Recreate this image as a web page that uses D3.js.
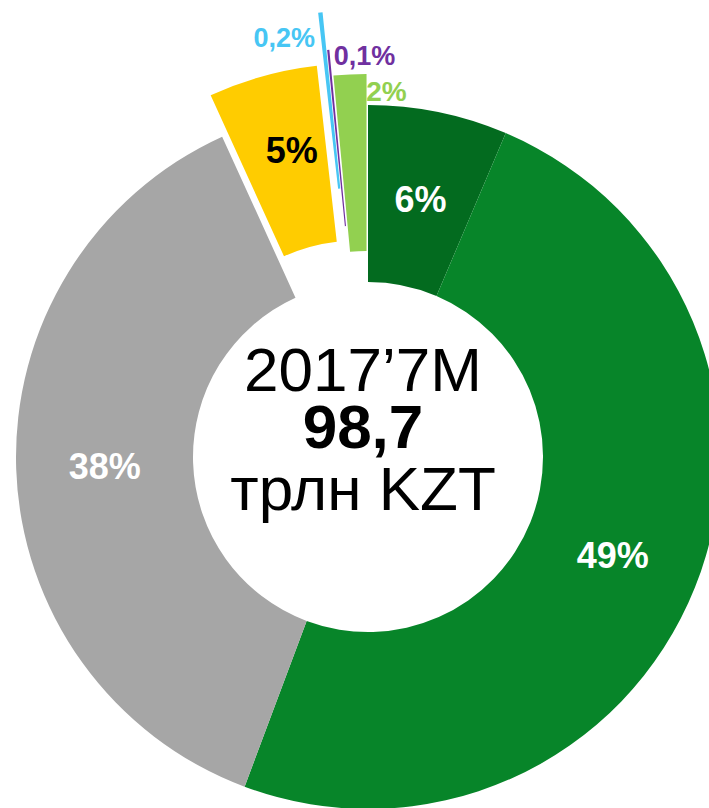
<!DOCTYPE html>
<html>
<head>
<meta charset="utf-8">
<script src="https://cdn.jsdelivr.net/npm/d3@7"></script>
<style>
  body { margin: 0; background: #fff; overflow: hidden; }
  text { font-family: "Liberation Sans", Arial, sans-serif; }
</style>
</head>
<body>
<svg id="chart" width="709" height="808"></svg>
<script>
// shares of total, clockwise from 12 o'clock
var labels = ["6%", "49%", "38%", "5%", "0,2%", "0,1%", "2%"];
var values = [6.4, 49.3, 37.5, 5.0, 0.2, 0.1, 1.5];
var colors = ["#036B1F", "#078529", "#A6A6A6", "#FFCC00", "#47C6F4", "#7030A0", "#92D050"];
var labelColors = ["#fff", "#fff", "#fff", "#000", "#47C6F4", "#7030A0", "#92D050"];
var centerLines = ["2017\u20197M", "98,7", "трлн KZT"];

// pulled-out distance of each slice
var explode = [0, 0, 0, 43, 95, 57, 31];

var cx = 368, cy = 457, rIn = 175, rOut = 352;

var svg = d3.select("#chart");
var g = svg.append("g").attr("transform", "translate(" + cx + "," + cy + ")");

var pie = d3.pie().sort(null).value(function(d) { return d; });
var arcs = pie(values);

var arc = d3.arc().innerRadius(rIn).outerRadius(rOut);

var mid = function(d) { return (d.startAngle + d.endAngle) / 2; };
var shift = function(d, i) {
  var a = mid(d);
  return [Math.sin(a) * explode[i], -Math.cos(a) * explode[i]];
};

var slices = g.selectAll(".slice")
    .data(arcs)
    .enter()
    .append("g")
    .attr("class", "slice")
    .attr("transform", function(d, i) { var s = shift(d, i); return "translate(" + s[0] + "," + s[1] + ")"; });

slices.append("path")
    .attr("d", arc)
    .attr("fill", function(d, i) { return colors[i]; });

// label spots: radius from slice centre, nudge, anchor
var labelR = [263.5, 263.5, 263.5, 276, 317, 337, 325];
var labelDx = [0, 0, 0, 9, -9, 4, 15];
var anchors = ["middle", "middle", "middle", "middle", "end", "start", "start"];
var labelSize = [36, 36, 36, 36, 27, 27, 28];

slices.append("text")
    .attr("x", function(d, i) { return Math.sin(mid(d)) * labelR[i] + labelDx[i]; })
    .attr("y", function(d, i) {
      var y = -Math.cos(mid(d)) * labelR[i];
      return i < 4 ? y + labelSize[i] * 0.36 : y;
    })
    .attr("text-anchor", function(d, i) { return anchors[i]; })
    .style("font-size", function(d, i) { return labelSize[i] + "px"; })
    .style("font-weight", "bold")
    .attr("fill", function(d, i) { return labelColors[i]; })
    .text(function(d, i) { return labels[i]; });

// centre text
var baselines = [391, 448, 510];
svg.selectAll(".center_text")
    .data(centerLines)
    .enter()
    .append("text")
    .attr("class", "center_text")
    .attr("x", 363)
    .attr("y", function(d, i) { return baselines[i]; })
    .attr("text-anchor", "middle")
    .style("font-size", "62px")
    .style("font-weight", function(d, i) { return i == 1 ? "bold" : "normal"; })
    .attr("fill", "#000")
    .text(function(d) { return d; });
</script>
</body>
</html>
